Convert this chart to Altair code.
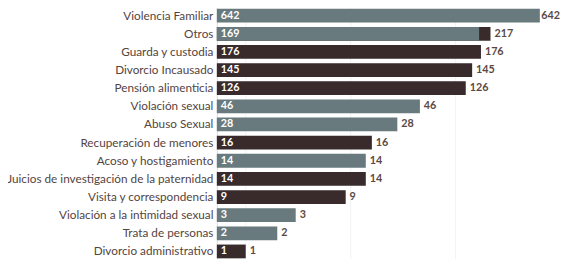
import altair as alt
import pandas as pd

categories = [
    "Violencia Familiar", "Otros", "Guarda y custodia", "Divorcio Incausado",
    "Pensión alimenticia", "Violación sexual", "Abuso Sexual",
    "Recuperación de menores", "Acoso y hostigamiento",
    "Juicios de investigación de la paternidad", "Visita y correspondencia",
    "Violación a la intimidad sexual", "Trata de personas", "Divorcio administrativo",
]
values = [642, 169, 176, 145, 126, 46, 28, 16, 14, 14, 9, 3, 2, 1]
totals = [642, 217, 176, 145, 126, 46, 28, 16, 14, 14, 9, 3, 2, 1]
groups = ["gris", "gris", "oscuro", "oscuro", "oscuro", "gris", "gris",
          "oscuro", "gris", "oscuro", "oscuro", "gris", "gris", "oscuro"]
grid_values = [1, 10, 100, 1000]

df = pd.DataFrame({"cat": categories, "value": values, "total": totals, "grupo": groups})

BASE = 0.53
FONT = "Lato"
GRAY = "#687a7d"
DARK = "#392a2b"
TXT = "#54443f"

y = alt.Y("cat:N", sort=categories,
          scale=alt.Scale(paddingInner=0.24, paddingOuter=0.12),
          axis=alt.Axis(title=None, ticks=False, domain=False, labelPadding=4,
                        labelFont=FONT, labelFontSize=12, labelColor=TXT,
                        labelLimit=0))
xscale = alt.Scale(type="log", domain=[BASE, 1000], nice=False)
xaxis = alt.Axis(title=None, labels=False, ticks=False, domain=False,
                 values=grid_values, grid=True, gridColor="#f3f3f3")

base = alt.Chart(df)

extra = base.transform_filter("datum.total > datum.value").mark_bar(color=DARK).encode(
    x=alt.X("total:Q", scale=xscale, axis=xaxis), x2=alt.datum(BASE), y=y)

bars = base.mark_bar().encode(
    x=alt.X("value:Q", scale=xscale, axis=xaxis), x2=alt.datum(BASE), y=y,
    color=alt.Color("grupo:N", scale=alt.Scale(domain=["gris", "oscuro"], range=[GRAY, DARK]),
                    legend=None))

inner = base.mark_text(align="left", dx=4, color="white", fontWeight="bold",
                       font=FONT, fontSize=11).encode(
    x=alt.datum(BASE), y=y, text="value:Q")

outer = base.transform_filter("datum.total < 600").mark_text(
    align="left", dx=4, color="#5a4843", fontWeight="bold", font=FONT, fontSize=11).encode(
    x=alt.X("total:Q", scale=xscale), y=y, text="total:Q")

outer_max = base.transform_filter("datum.total >= 600").mark_text(
    align="left", dx=1.5, color="#5a4843", fontWeight="bold", font=FONT, fontSize=11).encode(
    x=alt.X("total:Q", scale=xscale), y=y, text="total:Q")

chart = alt.layer(extra, bars, inner, outer, outer_max).properties(
    width=350, height=259,
    autosize=alt.AutoSizeParams(type="none"),
    padding={"left": 213, "top": -4, "right": 0, "bottom": 0},
).configure_view(stroke=None).configure(background="white")

chart.save("out.html", embed_options={"renderer": "svg", "actions": False})
